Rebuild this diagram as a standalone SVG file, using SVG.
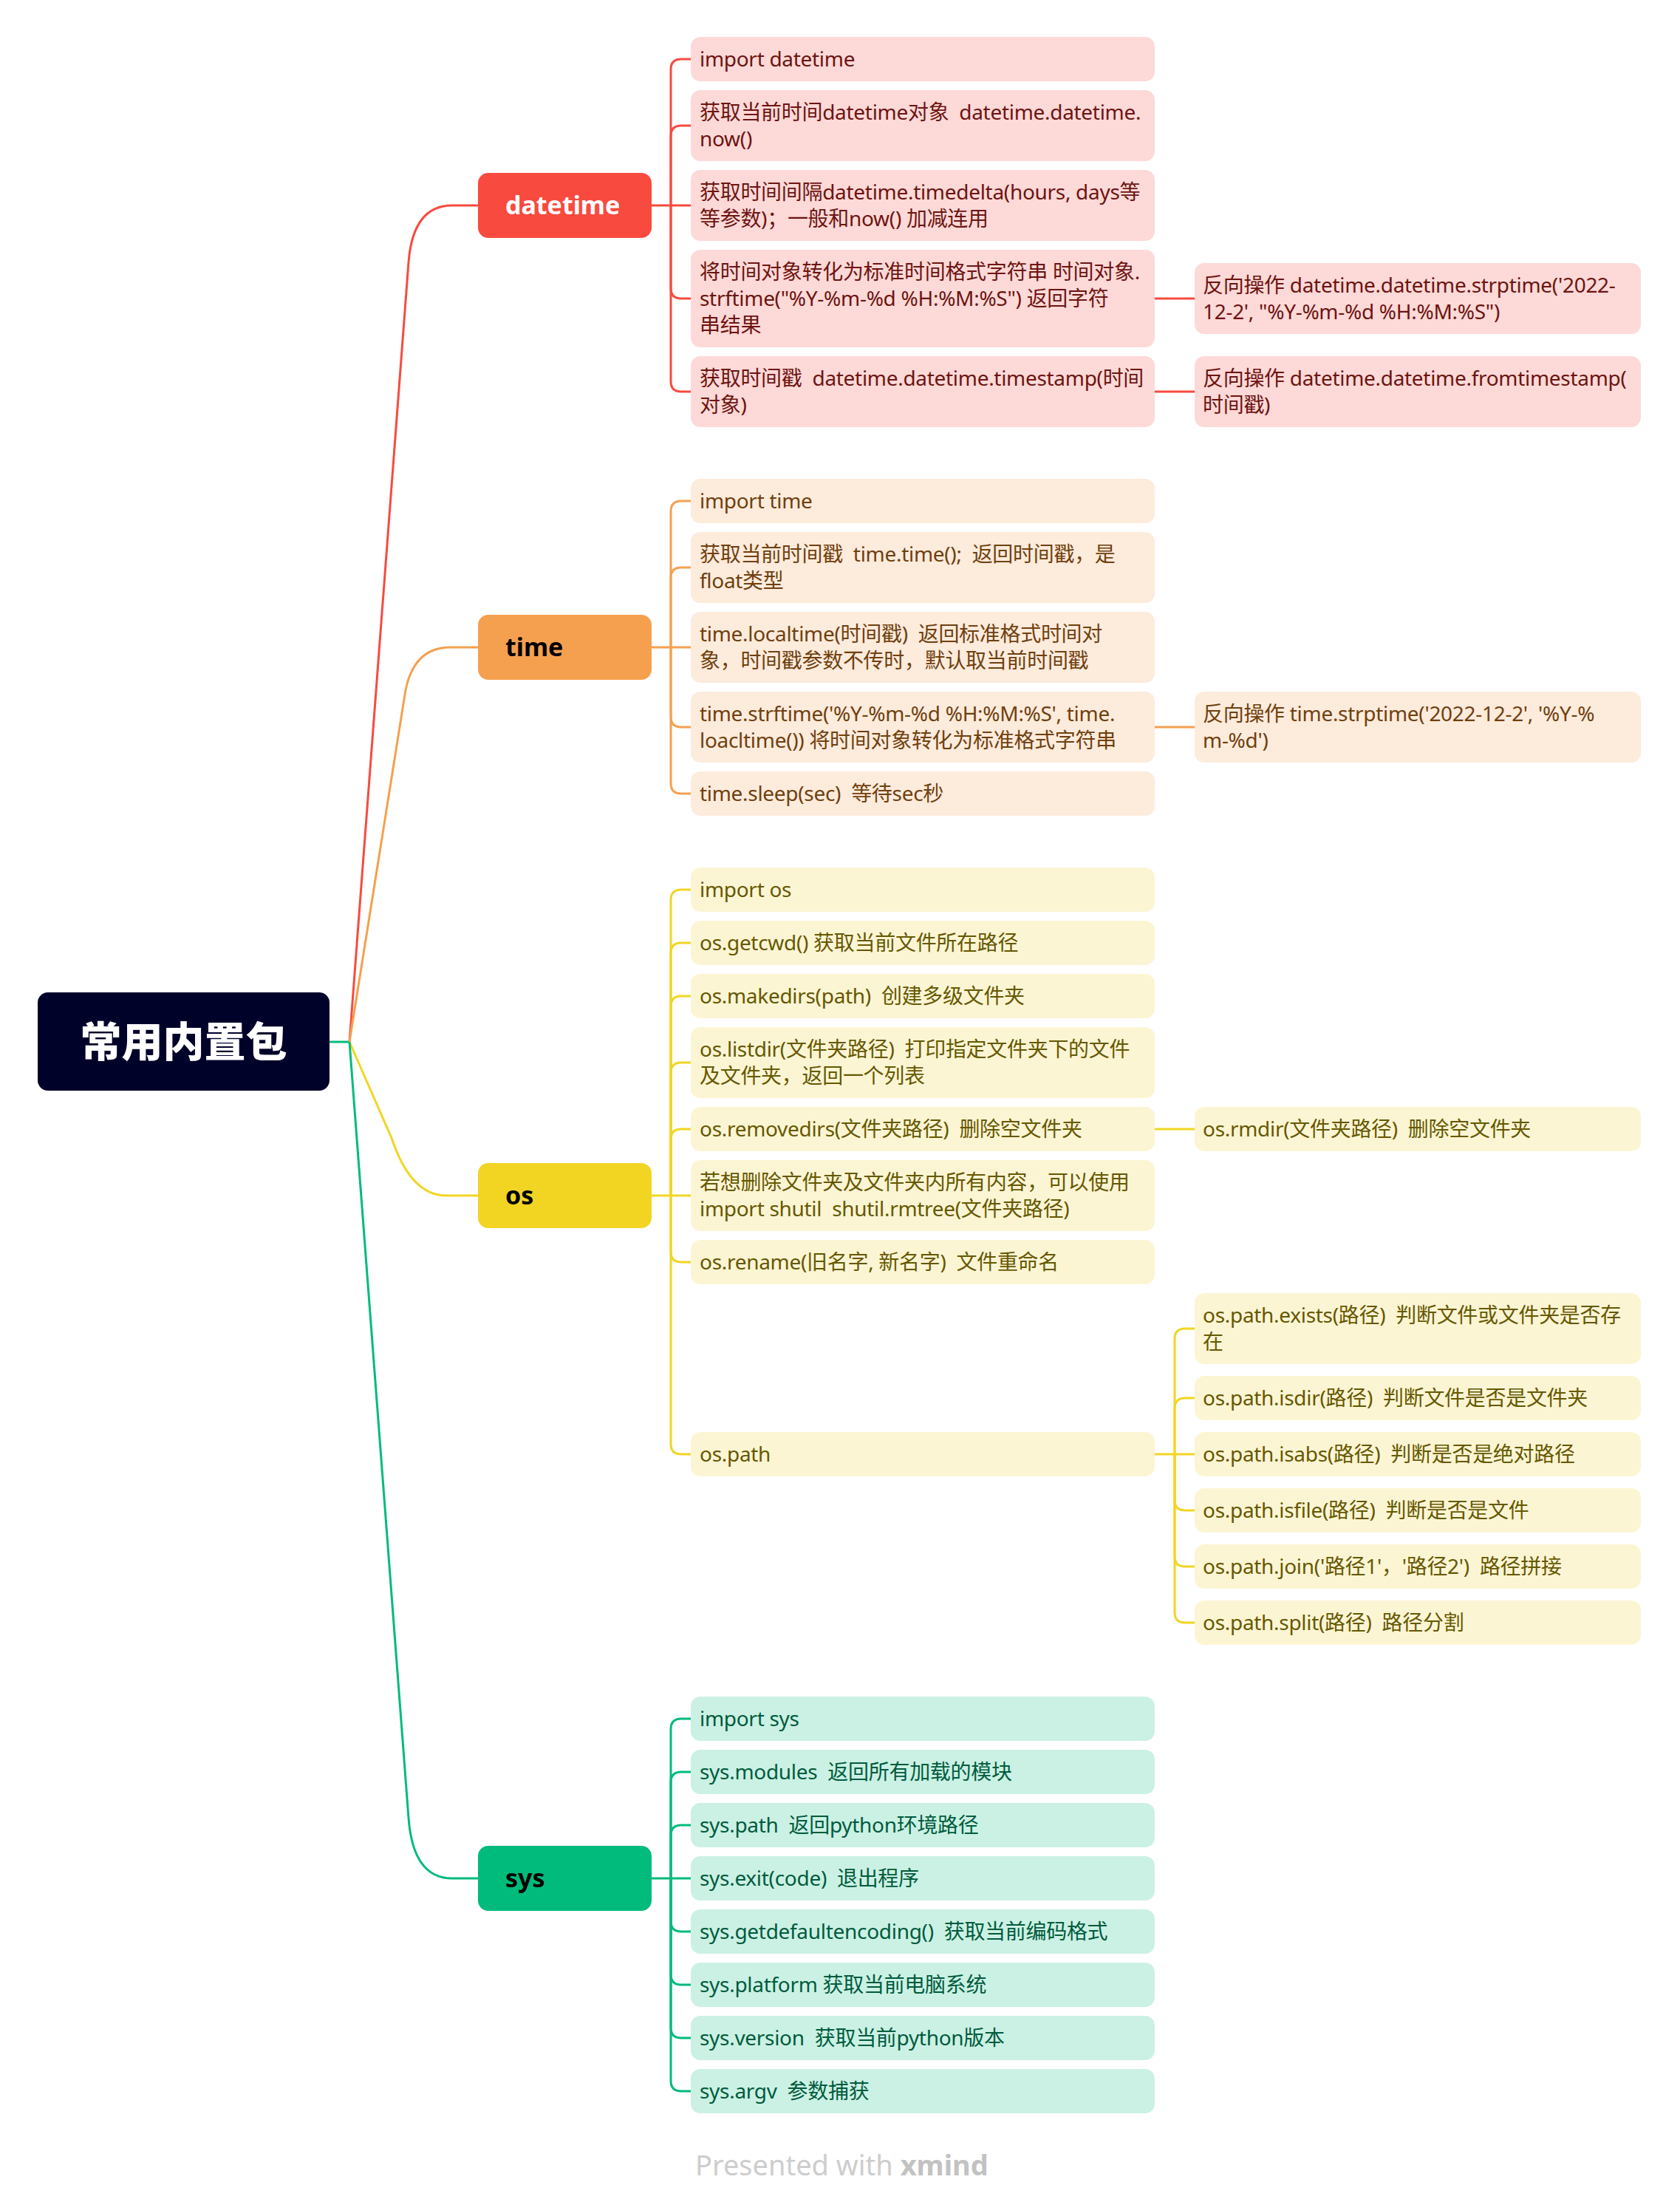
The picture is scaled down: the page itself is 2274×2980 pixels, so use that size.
<svg xmlns="http://www.w3.org/2000/svg" width="2274" height="2980" viewBox="0 0 2274 2980">
<style>
text{font-family:"Noto Sans","Noto Sans CJK SC",sans-serif;white-space:pre}
.t{font-size:28px;letter-spacing:-0.3px}
.n{font-size:34px;font-weight:700}
.ln{fill:none;stroke-width:3}
.r{stroke:#F84A3F}.o{stroke:#F5A04F}.y{stroke:#F2D523}.g{stroke:#00BB7B}
.fr{fill:#FDD9D8}.fo{fill:#FDEBDC}.fy{fill:#FCF5D4}.fg{fill:#CBF1E4}
.cr{fill:#6E1410}.co{fill:#70400E}.cy{fill:#665800}.cg{fill:#005B3D}
</style>
<rect width="2274" height="2980" fill="#FFFFFF"/>
<g id="connectors">
<path class="ln g" d="M446,1410 H473"/>
<path class="ln r" d="M473,1410 L553,355 Q559,278 612,278 H647"/>
<path class="ln o" d="M473,1410 L548,940 Q558,876 610,876 H647"/>
<path class="ln y" d="M473,1410 L530,1540 Q556,1618 604,1618 H647"/>
<path class="ln g" d="M473,1410 L553,2460 Q559,2542 612,2542 H647"/>
<!-- datetime -->
<path class="ln r" d="M882,278 H935"/>
<path class="ln r" d="M908,278 V94 Q908,80 922,80 H935"/>
<path class="ln r" d="M908,278 V184 Q908,170 922,170 H935"/>
<path class="ln r" d="M908,278 V390 Q908,404 922,404 H935"/>
<path class="ln r" d="M908,278 V516 Q908,530 922,530 H935"/>
<path class="ln r" d="M1563,404 H1617"/>
<path class="ln r" d="M1563,530 H1617"/>
<!-- time -->
<path class="ln o" d="M882,876 H935"/>
<path class="ln o" d="M908,876 V692 Q908,678 922,678 H935"/>
<path class="ln o" d="M908,876 V782 Q908,768 922,768 H935"/>
<path class="ln o" d="M908,876 V970 Q908,984 922,984 H935"/>
<path class="ln o" d="M908,876 V1060 Q908,1074 922,1074 H935"/>
<path class="ln o" d="M1563,984 H1617"/>
<!-- os -->
<path class="ln y" d="M882,1618 H935"/>
<path class="ln y" d="M908,1618 V1218 Q908,1204 922,1204 H935"/>
<path class="ln y" d="M908,1618 V1290 Q908,1276 922,1276 H935"/>
<path class="ln y" d="M908,1618 V1362 Q908,1348 922,1348 H935"/>
<path class="ln y" d="M908,1618 V1452 Q908,1438 922,1438 H935"/>
<path class="ln y" d="M908,1618 V1542 Q908,1528 922,1528 H935"/>
<path class="ln y" d="M908,1618 V1694 Q908,1708 922,1708 H935"/>
<path class="ln y" d="M908,1618 V1954 Q908,1968 922,1968 H935"/>
<path class="ln y" d="M1563,1528 H1617"/>
<path class="ln y" d="M1563,1968 H1617"/>
<path class="ln y" d="M1590,1968 V1812 Q1590,1798 1604,1798 H1617"/>
<path class="ln y" d="M1590,1968 V1906 Q1590,1892 1604,1892 H1617"/>
<path class="ln y" d="M1590,1968 V2030 Q1590,2044 1604,2044 H1617"/>
<path class="ln y" d="M1590,1968 V2106 Q1590,2120 1604,2120 H1617"/>
<path class="ln y" d="M1590,1968 V2182 Q1590,2196 1604,2196 H1617"/>
<!-- sys -->
<path class="ln g" d="M882,2542 H935"/>
<path class="ln g" d="M908,2542 V2340 Q908,2326 922,2326 H935"/>
<path class="ln g" d="M908,2542 V2412 Q908,2398 922,2398 H935"/>
<path class="ln g" d="M908,2542 V2484 Q908,2470 922,2470 H935"/>
<path class="ln g" d="M908,2542 V2600 Q908,2614 922,2614 H935"/>
<path class="ln g" d="M908,2542 V2672 Q908,2686 922,2686 H935"/>
<path class="ln g" d="M908,2542 V2744 Q908,2758 922,2758 H935"/>
<path class="ln g" d="M908,2542 V2816 Q908,2830 922,2830 H935"/>
</g>

<g id="root"><rect x="51" y="1343" width="395" height="133" rx="14" fill="#01022A"/><text x="248.5" y="1430" font-size="56" font-weight="900" fill="#FFFFFF" text-anchor="middle">常用内置包</text></g>

<g id="n-datetime"><rect x="647" y="234" width="235" height="88" rx="14" fill="#F84A3F"/><text class="n" x="684" y="290" fill="#FFFFFF">datetime</text></g>
<g id="n-time"><rect x="647" y="832" width="235" height="88" rx="14" fill="#F5A04F"/><text class="n" x="684" y="888" fill="#000000">time</text></g>
<g id="n-os"><rect x="647" y="1574" width="235" height="88" rx="14" fill="#F2D523"/><text class="n" x="684" y="1630" fill="#000000">os</text></g>
<g id="n-sys"><rect x="647" y="2498" width="235" height="88" rx="14" fill="#00BB7B"/><text class="n" x="684" y="2554" fill="#000000">sys</text></g>

<!-- datetime children -->
<g id="a1"><rect class="fr" x="935" y="50" width="628" height="60" rx="13"/><text class="t cr" x="947" y="90">import datetime</text></g>
<g id="a2"><rect class="fr" x="935" y="122" width="628" height="96" rx="13"/><text class="t cr" x="947" y="162">获取当前时间datetime对象  datetime.datetime.<tspan x="947" dy="36">now()</tspan></text></g>
<g id="a3"><rect class="fr" x="935" y="230" width="628" height="96" rx="13"/><text class="t cr" x="947" y="270">获取时间间隔datetime.timedelta(hours, days等<tspan x="947" dy="36">等参数)；一般和now() 加减连用</tspan></text></g>
<g id="a4"><rect class="fr" x="935" y="338" width="628" height="132" rx="13"/><text class="t cr" x="947" y="378">将时间对象转化为标准时间格式字符串 时间对象.<tspan x="947" dy="36">strftime("%Y-%m-%d %H:%M:%S") 返回字符</tspan><tspan x="947" dy="36">串结果</tspan></text></g>
<g id="a5"><rect class="fr" x="935" y="482" width="628" height="96" rx="13"/><text class="t cr" x="947" y="522">获取时间戳  datetime.datetime.timestamp(时间<tspan x="947" dy="36">对象)</tspan></text></g>
<g id="a4a"><rect class="fr" x="1617" y="356" width="604" height="96" rx="13"/><text class="t cr" x="1628" y="396">反向操作 datetime.datetime.strptime('2022-<tspan x="1628" dy="36">12-2', "%Y-%m-%d %H:%M:%S")</tspan></text></g>
<g id="a5a"><rect class="fr" x="1617" y="482" width="604" height="96" rx="13"/><text class="t cr" x="1628" y="522">反向操作 datetime.datetime.fromtimestamp(<tspan x="1628" dy="36">时间戳)</tspan></text></g>

<!-- time children -->
<g id="b1"><rect class="fo" x="935" y="648" width="628" height="60" rx="13"/><text class="t co" x="947" y="688">import time</text></g>
<g id="b2"><rect class="fo" x="935" y="720" width="628" height="96" rx="13"/><text class="t co" x="947" y="760">获取当前时间戳  time.time();  返回时间戳，是<tspan x="947" dy="36">float类型</tspan></text></g>
<g id="b3"><rect class="fo" x="935" y="828" width="628" height="96" rx="13"/><text class="t co" x="947" y="868">time.localtime(时间戳)  返回标准格式时间对<tspan x="947" dy="36">象，时间戳参数不传时，默认取当前时间戳</tspan></text></g>
<g id="b4"><rect class="fo" x="935" y="936" width="628" height="96" rx="13"/><text class="t co" x="947" y="976">time.strftime('%Y-%m-%d %H:%M:%S', time.<tspan x="947" dy="36">loacltime()) 将时间对象转化为标准格式字符串</tspan></text></g>
<g id="b5"><rect class="fo" x="935" y="1044" width="628" height="60" rx="13"/><text class="t co" x="947" y="1084">time.sleep(sec)  等待sec秒</text></g>
<g id="b4a"><rect class="fo" x="1617" y="936" width="604" height="96" rx="13"/><text class="t co" x="1628" y="976">反向操作 time.strptime('2022-12-2', '%Y-%<tspan x="1628" dy="36">m-%d')</tspan></text></g>

<!-- os children -->
<g id="c1"><rect class="fy" x="935" y="1174" width="628" height="60" rx="13"/><text class="t cy" x="947" y="1214">import os</text></g>
<g id="c2"><rect class="fy" x="935" y="1246" width="628" height="60" rx="13"/><text class="t cy" x="947" y="1286">os.getcwd() 获取当前文件所在路径</text></g>
<g id="c3"><rect class="fy" x="935" y="1318" width="628" height="60" rx="13"/><text class="t cy" x="947" y="1358">os.makedirs(path)  创建多级文件夹</text></g>
<g id="c4"><rect class="fy" x="935" y="1390" width="628" height="96" rx="13"/><text class="t cy" x="947" y="1430">os.listdir(文件夹路径)  打印指定文件夹下的文件<tspan x="947" dy="36">及文件夹，返回一个列表</tspan></text></g>
<g id="c5"><rect class="fy" x="935" y="1498" width="628" height="60" rx="13"/><text class="t cy" x="947" y="1538">os.removedirs(文件夹路径)  删除空文件夹</text></g>
<g id="c6"><rect class="fy" x="935" y="1570" width="628" height="96" rx="13"/><text class="t cy" x="947" y="1610">若想删除文件夹及文件夹内所有内容，可以使用<tspan x="947" dy="36">import shutil  shutil.rmtree(文件夹路径)</tspan></text></g>
<g id="c7"><rect class="fy" x="935" y="1678" width="628" height="60" rx="13"/><text class="t cy" x="947" y="1718">os.rename(旧名字, 新名字)  文件重命名</text></g>
<g id="c8"><rect class="fy" x="935" y="1938" width="628" height="60" rx="13"/><text class="t cy" x="947" y="1978">os.path</text></g>
<g id="c5a"><rect class="fy" x="1617" y="1498" width="604" height="60" rx="13"/><text class="t cy" x="1628" y="1538">os.rmdir(文件夹路径)  删除空文件夹</text></g>
<g id="d1"><rect class="fy" x="1617" y="1750" width="604" height="96" rx="13"/><text class="t cy" x="1628" y="1790">os.path.exists(路径)  判断文件或文件夹是否存<tspan x="1628" dy="36">在</tspan></text></g>
<g id="d2"><rect class="fy" x="1617" y="1862" width="604" height="60" rx="13"/><text class="t cy" x="1628" y="1902">os.path.isdir(路径)  判断文件是否是文件夹</text></g>
<g id="d3"><rect class="fy" x="1617" y="1938" width="604" height="60" rx="13"/><text class="t cy" x="1628" y="1978">os.path.isabs(路径)  判断是否是绝对路径</text></g>
<g id="d4"><rect class="fy" x="1617" y="2014" width="604" height="60" rx="13"/><text class="t cy" x="1628" y="2054">os.path.isfile(路径)  判断是否是文件</text></g>
<g id="d5"><rect class="fy" x="1617" y="2090" width="604" height="60" rx="13"/><text class="t cy" x="1628" y="2130">os.path.join('路径1'，'路径2')  路径拼接</text></g>
<g id="d6"><rect class="fy" x="1617" y="2166" width="604" height="60" rx="13"/><text class="t cy" x="1628" y="2206">os.path.split(路径)  路径分割</text></g>

<!-- sys children -->
<g id="e1"><rect class="fg" x="935" y="2296" width="628" height="60" rx="13"/><text class="t cg" x="947" y="2336">import sys</text></g>
<g id="e2"><rect class="fg" x="935" y="2368" width="628" height="60" rx="13"/><text class="t cg" x="947" y="2408">sys.modules  返回所有加载的模块</text></g>
<g id="e3"><rect class="fg" x="935" y="2440" width="628" height="60" rx="13"/><text class="t cg" x="947" y="2480">sys.path  返回python环境路径</text></g>
<g id="e4"><rect class="fg" x="935" y="2512" width="628" height="60" rx="13"/><text class="t cg" x="947" y="2552">sys.exit(code)  退出程序</text></g>
<g id="e5"><rect class="fg" x="935" y="2584" width="628" height="60" rx="13"/><text class="t cg" x="947" y="2624">sys.getdefaultencoding()  获取当前编码格式</text></g>
<g id="e6"><rect class="fg" x="935" y="2656" width="628" height="60" rx="13"/><text class="t cg" x="947" y="2696">sys.platform 获取当前电脑系统</text></g>
<g id="e7"><rect class="fg" x="935" y="2728" width="628" height="60" rx="13"/><text class="t cg" x="947" y="2768">sys.version  获取当前python版本</text></g>
<g id="e8"><rect class="fg" x="935" y="2800" width="628" height="60" rx="13"/><text class="t cg" x="947" y="2840">sys.argv  参数捕获</text></g>

<text x="941" y="2944" font-size="38" fill="#CDCDCD">Presented with <tspan font-weight="700" fill="#C2C2C2">xmind</tspan></text>
</svg>
